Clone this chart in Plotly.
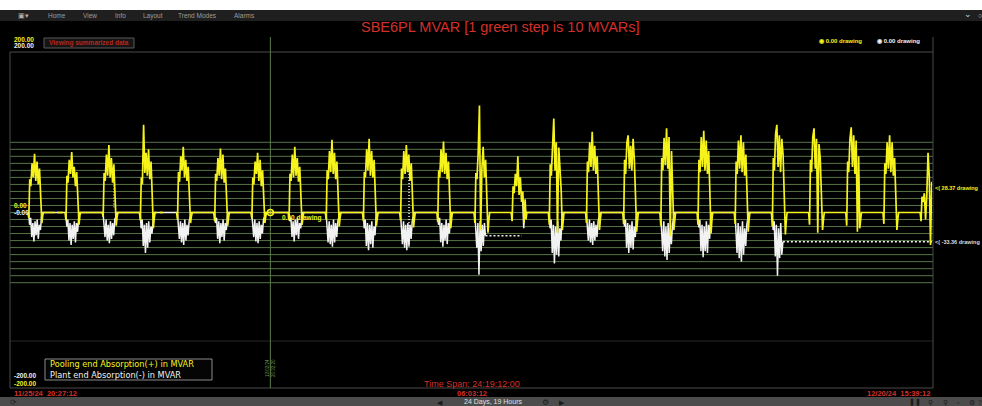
import pandas as pd
import plotly.graph_objects as go

W, H = 982, 406

# ---- time window -----------------------------------------------------------
START = "2024-11-25 20:27:12"
END = "2024-12-20 15:39:12"
CURSOR = "2024-12-02 20:32:20"

# ---- daily generation pulses ------------------------------------------------
PULSE_DAYS = [
    "2024-11-26", "2024-11-27", "2024-11-28", "2024-11-29", "2024-11-30",
    "2024-12-01", "2024-12-02", "2024-12-03", "2024-12-04", "2024-12-05",
    "2024-12-06", "2024-12-07", "2024-12-08", "2024-12-09", "2024-12-10",
    "2024-12-11", "2024-12-12", "2024-12-13", "2024-12-14", "2024-12-15",
    "2024-12-16", "2024-12-17", "2024-12-18", "2024-12-19", "2024-12-20",
]

# pooling end (yellow) samples, hour of day -> MVAR
POOL_HOURS = [8.0, 8.6, 9.2, 9.9, 10.7, 11.5, 12.3, 13.1,
              13.9, 14.7, 15.5, 16.3, 17.0, 17.6, 18.1]
POOL_MVAR = [
    [0, -6, 38, 30, 56, 40, 67, 36, 58, 32, 50, 18, -12, -3, 0],
    [0, -9, 42, 34, 60, 44, 69, 40, 52, 30, 46, 15, -14, -3, 0],
    [0, -5, 45, 36, 66, 42, 77, 40, 62, 34, 55, 20, -15, -5, 0],
    [0, -9, 40, 32, 100, 45, 68, 42, 72, 38, 58, 22, -18, -6, 0],
    [0, -8, 46, 35, 64, 48, 75, 40, 60, 36, 52, 18, -12, -4, 0],
    [0, -10, 44, 36, 62, 42, 73, 38, 66, 34, 50, 16, -15, -5, 0],
    [0, -7, 40, 32, 58, 44, 68, 36, 60, 30, 48, 15, -12, -4, 0],
    [0, -9, 44, 36, 66, 40, 75, 42, 62, 35, 52, 18, -14, -5, 0],
    [0, -8, 48, 38, 70, 46, 83, 44, 68, 38, 58, 20, -16, -5, 0],
    [0, -10, 46, 40, 72, 48, 84, 42, 70, 40, 60, 22, -15, -6, 0],
    [0, -9, 50, 38, 70, 44, 77, 46, 66, 36, 56, 20, -17, -6, 0],
    [0, -11, 48, 40, 72, 46, 81, 44, 68, 38, 58, 22, -18, -6, 0],
    [0, -12, 45, 38, 68, 122, -20, 50, 75, 40, 60, 22, -23, -8, 0],
    [0, -10, 30, 22, 44, 30, 64, 20, 40, 12, 24, -12, 15, -8, 0],
    [0, -14, 55, 42, 85, 107, 48, 80, -23, 74, 50, 24, -20, -8, 0],
    [0, -12, 58, 46, 80, 52, 92, 48, 76, 44, 64, 26, -20, -7, 0],
    [0, -13, 60, 44, 80, 88, 50, 76, 48, 84, 60, 24, -22, -8, 0],
    [0, -15, 62, 48, 85, 54, 96, 50, 86, -27, 70, 26, -20, -9, 0],
    [0, -14, 60, 46, 86, 52, 93, 48, 82, 44, 70, 26, -24, -8, 0],
    [0, -13, 58, 44, 82, 50, 88, 46, 80, 42, 66, 24, -22, -8, 0],
    [0, -16, 62, 48, 90, 100, 52, 88, 46, 84, 66, 26, -25, -9, 0],
    [0, -14, 60, 46, 86, 96, 50, 84, -23, 78, 62, 24, -20, -8, 0],
    [0, -15, 58, 46, 84, 97, 52, 88, 44, 82, -22, 64, -18, -8, 0],
    [0, -13, 56, 44, 80, 50, 88, 46, 80, 42, 62, 24, -20, -7, 0],
    [0, -10, 18, 12, 22, -8, 20, 68, 40, -37, 35, None, None, None, None],
]
POOL_LAST = 28.37          # value at END
POOL_GAPS = [              # stretches with no pooling-end samples
    ("2024-11-27 01:30", "2024-11-27 03:05"),
    ("2024-11-27 06:40", "2024-11-27 07:50"),
    ("2024-11-29 19:20", "2024-11-29 21:15"),
    ("2024-11-29 23:15", "2024-11-30 07:50"),
]

# plant end (white) samples, hour of day -> MVAR
PLANT_HOURS = [8.5, 9.1, 9.8, 10.5, 11.2, 11.9, 12.6,
               13.3, 14.0, 14.7, 15.4, 16.1, 16.8, 17.4]
PLANT_MVAR = [
    [0, -14, -6, -28, -12, -33, -10, -26, -8, -30, -14, -20, -5, 0],
    [0, -16, -8, -32, -12, -37, -14, -30, -10, -34, -12, -22, -6, 0],
    [0, -12, -28, -8, -32, -14, -35, -10, -30, -12, -26, -8, -5, 0],
    [0, -18, -8, -38, -14, -46, -12, -40, -10, -34, -16, -24, -6, 0],
    [0, -14, -30, -10, -34, -12, -37, -8, -32, -14, -26, -10, -5, 0],
    [0, -12, -6, -30, -10, -35, -12, -28, -8, -32, -12, -20, -5, 0],
    [0, -14, -28, -8, -33, -12, -35, -10, -30, -14, -24, -8, -5, 0],
    [0, -10, -6, -28, -10, -33, -8, -26, -6, -30, -12, -18, -4, 0],
    [0, -16, -34, -10, -36, -14, -39, -8, -34, -12, -28, -10, -6, 0],
    [0, -18, -8, -38, -12, -43, -14, -36, -10, -40, -16, -26, -6, 0],
    [0, -16, -36, -10, -40, -14, -43, -12, -38, -14, -30, -10, -6, 0],
    [0, -14, -6, -34, -12, -39, -14, -32, -8, -36, -12, -24, -5, 0],
    [0, -18, -40, -12, -71, -10, -44, -14, -38, -12, -26.4, None, None, None],
    [None, None, None, None, None, None, None, None, None, None, 14, -18, 6, 0],
    [0, -18, -8, -46, -14, -58, -16, -48, -10, -50, -18, -32, -8, 0],
    [0, -14, -32, -8, -34, -12, -37, -10, -32, -14, -28, -10, -5, 0],
    [0, -16, -8, -40, -12, -46, -14, -40, -10, -42, -16, -28, -6, 0],
    [0, -18, -44, -10, -50, -16, -54, -12, -46, -18, -36, -14, -7, 0],
    [0, -17, -8, -44, -14, -51, -16, -44, -10, -46, -14, -30, -6, 0],
    [0, -18, -46, -12, -52, -16, -56, -10, -48, -18, -38, -14, -7, 0],
    [0, -20, -10, -50, -14, -72, -18, -52, -12, -48, -33.36, None, None, None],
    [None] * 14, [None] * 14, [None] * 14, [None] * 14,
]
# last known plant-end value held over missing data (dotted)
PLANT_HELD = [
    ("2024-12-08 15:24", "2024-12-09 14:48", -26.4),
    ("2024-12-16 15:24", END, -33.36),
]
# interpolated plant-end excursions (dotted)
PLANT_FILLED = [
    ("2024-11-28 15:33", 41, 6),
    ("2024-12-06 14:03", 54, -39),
]

GREEN_LEVELS = [80, 72, 64, 56, 48, 40, 32, 24, 16, 8, 0,
                -8, -16, -24, -32, -40, -48, -56, -64, -72, -80]
Y_MIN, Y_MAX = -200, 200

MENU = ["Home", "View", "Info", "Layout", "Trend Modes", "Alarms"]

YELLOW = "#f6f31c"
WHITE = "#f2f2f2"
RED = "#d3302b"
FONT = "Liberation Sans, Arial, sans-serif"
WIDE = "DejaVu Sans, Verdana, sans-serif"

# plot frame (pixels)
X0, X1 = 10, 932
Y_TOP, Y_BOT = 37, 388


def px(x):
    return x / W


def py(y):
    return 1 - y / H


def series(days, hours, rows):
    pts = []
    for day, row in zip(days, rows):
        base = pd.Timestamp(day)
        for h, v in zip(hours, row):
            pts.append((base + pd.Timedelta(hours=h), v))
    return pts


# pooling end series with gaps
pool = series(PULSE_DAYS, POOL_HOURS, POOL_MVAR)
pool = [p for p in pool if p[0] <= pd.Timestamp(END) and p[1] is not None]
pool.append((pd.Timestamp(END), POOL_LAST))
for g0, g1 in POOL_GAPS:
    pool.append((pd.Timestamp(g0), 0.0))
    pool.append((pd.Timestamp(g0), None))
    pool.append((pd.Timestamp(g1), 0.0))
pool.sort(key=lambda p: p[0])

plant = series(PULSE_DAYS, PLANT_HOURS, PLANT_MVAR)
while plant and plant[-1][1] is None:
    plant.pop()

fig = go.Figure()

fig.add_trace(go.Scatter(
    x=[p[0] for p in plant], y=[p[1] for p in plant], mode="lines",
    line=dict(color=WHITE, width=1.5), connectgaps=False, hoverinfo="skip"))

for t0, t1, v in PLANT_HELD:
    fig.add_trace(go.Scatter(
        x=[t0, t1], y=[v, v], mode="lines",
        line=dict(color=WHITE, width=1.5, dash="2px,2px"), hoverinfo="skip"))

for t, v0, v1 in PLANT_FILLED:
    fig.add_trace(go.Scatter(
        x=[t, t], y=[v0, v1], mode="lines",
        line=dict(color=WHITE, width=1.5, dash="1px,2px"), hoverinfo="skip"))

fig.add_trace(go.Scatter(
    x=[p[0] for p in pool], y=[p[1] for p in pool], mode="lines",
    line=dict(color=YELLOW, width=1.7), connectgaps=False, hoverinfo="skip"))

# cursor read-out marker
fig.add_trace(go.Scatter(
    x=[CURSOR], y=[0], mode="markers",
    marker=dict(symbol="circle-open", size=6, color=YELLOW, line=dict(width=1.5)),
    hoverinfo="skip"))

shapes = []
# top caption strip and menu bar
shapes.append(dict(type="rect", xref="paper", yref="paper", x0=0, x1=1,
                   y0=py(10), y1=1, fillcolor="white", line_width=0, layer="below"))
shapes.append(dict(type="rect", xref="paper", yref="paper", x0=0, x1=1,
                   y0=py(21), y1=py(10), fillcolor="#1f1f1f", line_width=0, layer="below"))
# bottom status strip
shapes.append(dict(type="rect", xref="paper", yref="paper", x0=0, x1=1,
                   y0=0, y1=py(397), fillcolor="#4c4c4c", line_width=0, layer="below"))

# green reference levels
for lv in GREEN_LEVELS:
    shapes.append(dict(type="line", xref="paper", yref="y", x0=px(X0), x1=px(X1 + 1),
                       y0=lv, y1=lv, line=dict(color="rgb(86,116,70)", width=1), layer="below"))

frame = dict(color="#4a4a4a", width=1)
shapes += [
    dict(type="line", xref="paper", yref="paper", x0=px(X0), x1=px(X1 + 1), y0=py(52), y1=py(52), line=frame, layer="below"),
    dict(type="line", xref="paper", yref="paper", x0=px(X0), x1=px(X1 + 1), y0=py(Y_BOT), y1=py(Y_BOT), line=frame, layer="below"),
    dict(type="line", xref="paper", yref="paper", x0=px(X0), x1=px(X1 + 1), y0=py(341), y1=py(341), line=dict(color="#262626", width=1), layer="below"),
    dict(type="line", xref="paper", yref="paper", x0=px(X0), x1=px(X0), y0=py(Y_BOT), y1=py(52), line=frame, layer="below"),
    dict(type="line", xref="paper", yref="paper", x0=px(X1 + 1), x1=px(X1 + 1), y0=py(Y_BOT), y1=py(Y_TOP), line=frame, layer="below"),
    dict(type="line", xref="x", yref="paper", x0=CURSOR, x1=CURSOR, y0=py(Y_BOT), y1=py(Y_TOP),
         line=dict(color="rgb(92,124,74)", width=1), layer="below"),
]
# boxes
shapes.append(dict(type="rect", xref="paper", yref="paper", x0=px(44), x1=px(134),
                   y0=py(48), y1=py(38), fillcolor="#151515", line=dict(color="#5a5a5a", width=1)))
shapes.append(dict(type="rect", xref="paper", yref="paper", x0=px(45), x1=px(212),
                   y0=py(380), y1=py(359), fillcolor="#050505", line=dict(color="#8a8a8a", width=1)))

ann = []


def note(x, y, text, color, size, xanchor="left", family=FONT, **kw):
    ann.append(dict(xref="paper", yref="paper", x=px(x), y=py(y), text=text,
                    showarrow=False, xanchor=xanchor, yanchor="middle",
                    font=dict(family=family, size=size, color=color), **kw))


note(500, 27, "SBE6PL MVAR [1 green step is 10 MVARs]", RED, 14.5, "center")

for label, cx in zip(MENU, [57, 90, 120, 153, 197, 244]):
    note(cx, 15.5, label, "#9c9c9c", 6.5, "center")
note(23, 15.5, "▣▾", "#b0b0b0", 7, "center")
note(968, 14.5, "⌄", "#cfcfcf", 9, "center")
note(980, 15.5, "○", "#cfcfcf", 7, "center")

note(89, 43, "<b>Viewing summarized data</b>", "#b4281f", 6.5, "center")

note(12, 39.5, "<b>200.00</b>", YELLOW, 6.5)
note(12, 46, "<b>200.00</b>", WHITE, 6.5)
note(12, 205, "<b>0.00</b>", YELLOW, 6.5)
note(12, 212.5, "<b>-0.00</b>", WHITE, 6.5)
note(12, 375.5, "<b>-200.00</b>", WHITE, 6.5)
note(12, 383, "<b>-200.00</b>", YELLOW, 6.5)

note(817, 41, "<b>◉ 0.00 drawing</b>", YELLOW, 6)
note(875, 41, "<b>◉ 0.00 drawing</b>", WHITE, 6)

note(280, 218, "<b>0.00 drawing</b>", YELLOW, 6.5)

# trend legend (two coloured lines in one block)
ann.append(dict(xref="paper", yref="paper", x=px(48), y=py(369.5), showarrow=False,
                xanchor="left", yanchor="middle", align="left",
                text=(f"<span style='color:{YELLOW}'>Pooling end Absorption(+) in MVAR</span><br>"
                      f"<span style='color:{WHITE}'>Plant end Absorption(-) in MVAR</span>"),
                font=dict(family=WIDE, size=8.2, color=WHITE)))

ann.append(dict(xref="paper", yref="paper", x=px(270), y=py(368),
                text="12/02/24<br>20:32:20", textangle=-90, showarrow=False,
                xanchor="center", yanchor="middle",
                font=dict(family=FONT, size=4.5, color="rgb(110,150,80)")))

# right-hand value read-outs
ann.append(dict(xref="x", yref="y", x=END, y=POOL_LAST, xanchor="left", yanchor="middle",
                xshift=1, showarrow=False, text="<b>&lt;( 28.37 drawing</b>",
                font=dict(family=FONT, size=5.5, color=YELLOW)))
ann.append(dict(xref="x", yref="y", x=END, y=PLANT_HELD[-1][2], xanchor="left", yanchor="middle",
                xshift=1, showarrow=False, text="<b>&lt;( -33.36 drawing</b>",
                font=dict(family=FONT, size=5.5, color="#dcdcdc")))

note(472, 383.5, "Time Span: 24:19:12:00", RED, 9, "center")
note(12, 393, "<b>11/25/24  20:27:12</b>", RED, 7.5)
note(472, 393, "<b>06:03:12</b>", RED, 7.5, "center")
note(932, 393, "<b>12/20/24  15:39:12</b>", RED, 7.5, "right")

note(493, 402, "24 Days, 19 Hours", "#e0e0e0", 7, "center")
note(440, 402, "◀", "#1a1a1a", 7, "center")
note(545, 402, "⚙", "#1a1a1a", 8, "center")
note(562, 402, "▶", "#1a1a1a", 7, "center")
note(13, 402, "⟳", "#222222", 8, "center")
for cx, ic in zip([915, 930, 945, 958, 972, 980], ["❚❚", "⚲", "⚲", "▫", "⚙", "?"]):
    note(cx, 402, ic, "#1a1a1a", 7, "center")

fig.update_layout(
    width=W, height=H, autosize=False,
    margin=dict(l=0, r=0, t=0, b=0),
    paper_bgcolor="black", plot_bgcolor="rgba(0,0,0,0)",
    showlegend=False,
    xaxis=dict(type="date", range=[START, END], domain=[px(X0), px(X1)],
               showgrid=False, zeroline=False, showticklabels=False, showline=False,
               fixedrange=True),
    yaxis=dict(range=[Y_MIN, Y_MAX], domain=[py(Y_BOT), py(Y_TOP)],
               showgrid=False, zeroline=False, showticklabels=False, showline=False,
               fixedrange=True),
    shapes=shapes, annotations=ann,
)

fig.write_html("out.html", config={"displayModeBar": False})
